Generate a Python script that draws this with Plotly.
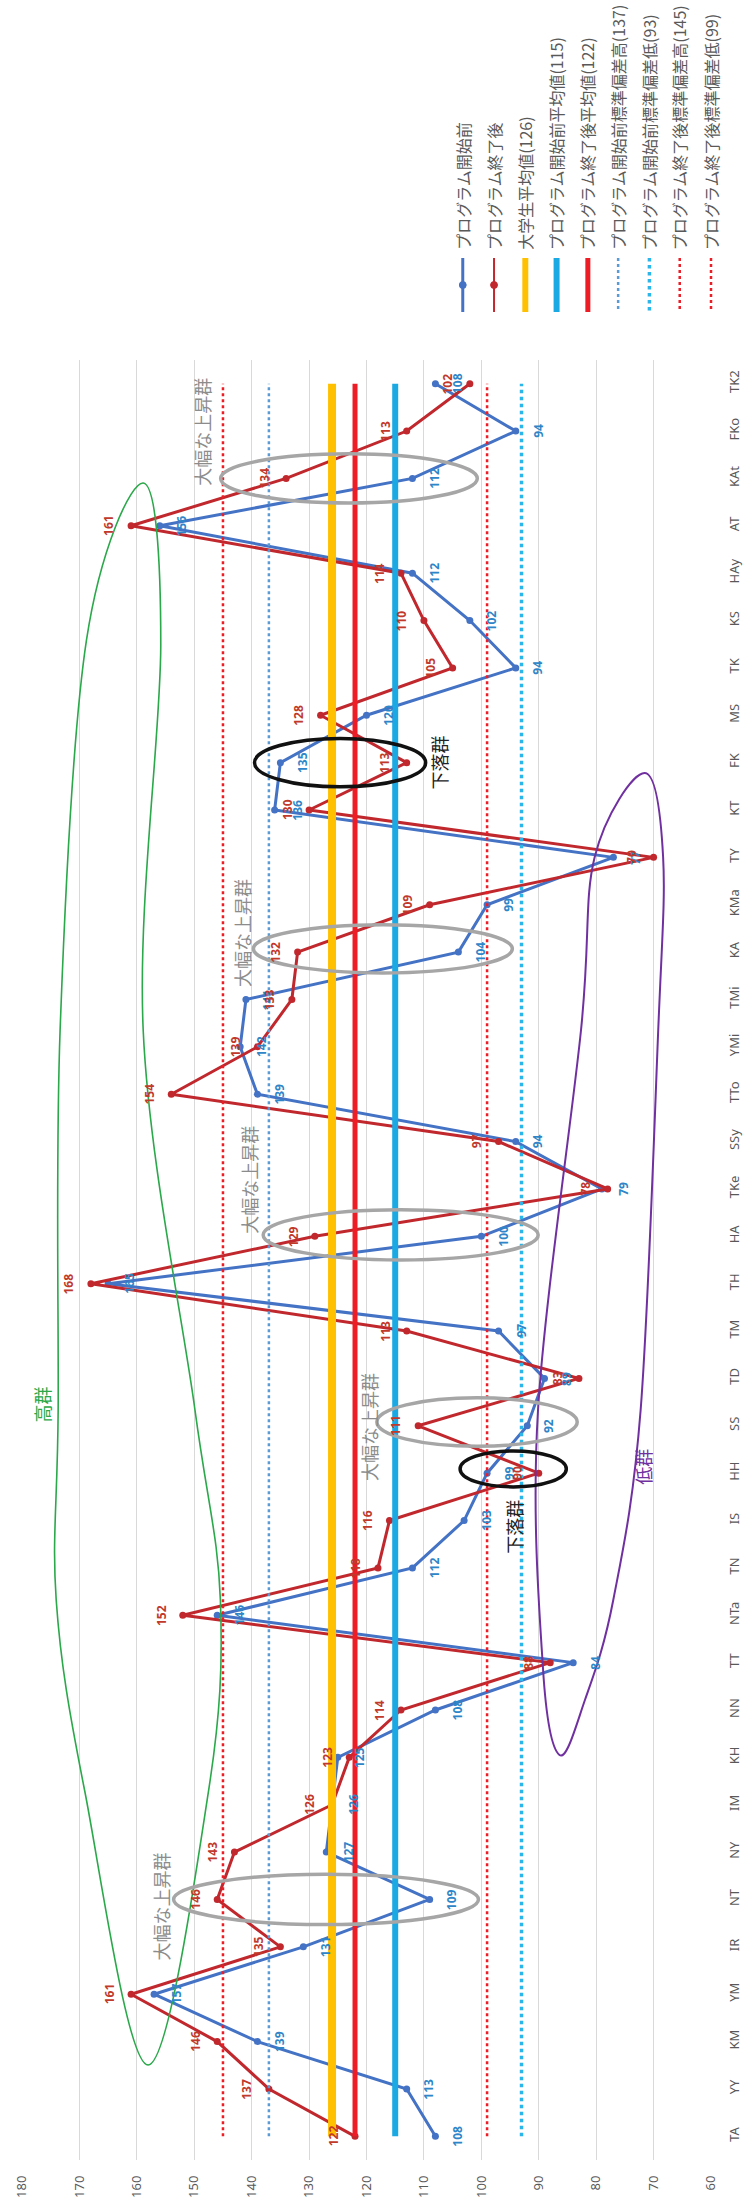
import plotly.graph_objects as go

# ---- data -------------------------------------------------------------
categories = ["TA", "YY", "KM", "YM", "IR", "NT", "NY", "IM", "KH", "NN",
              "TT", "NTa", "TN", "IS", "HH", "SS", "TD", "TM", "TH", "HA",
              "TKe", "SSy", "TTo", "YMi", "TMi", "KA", "KMa", "TY", "KT", "FK",
              "MS", "TK", "KS", "HAy", "AT", "KAt", "FKo", "TK2"]

pre_scores = [108, 113, 139, 157, 131, 109, 127, 126, 125, 108,
              84, 146, 112, 103, 99, 92, 89, 97, 165, 100,
              79, 94, 139, 142, 141, 104, 99, 77, 136, 135,
              120, 94, 102, 112, 156, 112, 94, 108]

post_scores = [122, 137, 146, 161, 135, 146, 143, 126, 123, 114,
               88, 152, 118, 116, 90, 111, 83, 113, 168, 129,
               78, 97, 154, 139, 133, 132, 109, 70, 130, 113,
               128, 105, 110, 114, 161, 134, 113, 102]

ref_names = ["大学生平均値(126)", "プログラム開始前平均値(115)", "プログラム終了後平均値(122)",
             "プログラム開始前標準偏差高(137)", "プログラム開始前標準偏差低(93)",
             "プログラム終了後標準偏差高(145)", "プログラム終了後標準偏差低(99)"]
ref_values = [126, 115, 122, 137, 93, 145, 99]
series_names = ["プログラム開始前", "プログラム終了後"]

value_ticks = list(range(60, 181, 10))

# ---- styling ----------------------------------------------------------
W, H = 755, 2212
PL, PR, PT, PB = 15, 720, 360, 2160          # plot area in pixels
BLUE, RED = "#4472C4", "#C0282D"
BLUE_TXT, RED_TXT = "#2E86C8", "#C0392B"
ref_styles = [("#FFC000", 8, "solid"), ("#1AA9E3", 6, "solid"), ("#EE1C25", 5, "solid"),
              ("#5B9BD5", 2.5, "dot"), ("#2BB5E8", 3.5, "dot"),
              ("#EE1C25", 2.5, "dot"), ("#EE1C25", 2.5, "dot")]
FONT = "Noto Sans, Noto Sans CJK JP, sans-serif"
JFONT = "Noto Sans CJK JP, sans-serif"

idx = list(range(len(categories)))
fig = go.Figure()

# data series
fig.add_trace(go.Scatter(x=pre_scores, y=idx, mode="lines+markers",
                         line=dict(color=BLUE, width=3),
                         marker=dict(color=BLUE, size=7), showlegend=False))
fig.add_trace(go.Scatter(x=post_scores, y=idx, mode="lines+markers",
                         line=dict(color=RED, width=3),
                         marker=dict(color=RED, size=7), showlegend=False))

# reference lines (mean / ±SD)
for val, (col, w, dash) in zip(ref_values, ref_styles):
    fig.add_trace(go.Scatter(x=[val, val], y=[idx[0], idx[-1]], mode="lines",
                             line=dict(color=col, width=w, dash=dash),
                             showlegend=False, hoverinfo="skip"))

annotations = []
# value labels
for i in idx:
    annotations.append(dict(x=pre_scores[i], y=i, text=str(pre_scores[i]),
                            xshift=22, showarrow=False, textangle=-90,
                            font=dict(family=FONT, size=12, color=BLUE_TXT, weight="bold")))
    annotations.append(dict(x=post_scores[i], y=i, text=str(post_scores[i]),
                            xshift=-22, showarrow=False, textangle=-90,
                            font=dict(family=FONT, size=12, color=RED_TXT, weight="bold")))


def to_val(px):
    return 180 - (px - PL) / ((PR - PL) / 120)


def to_cat(py):
    return 37.5 - (py - PT) / ((PB - PT) / 38)


def smooth_path(points):
    """Closed Catmull-Rom curve through (value, category) points as an SVG path."""
    n = len(points)
    d = "M {:.3f},{:.3f}".format(*points[0])
    for k in range(n):
        p0, p1 = points[k - 1], points[k]
        p2, p3 = points[(k + 1) % n], points[(k + 2) % n]
        c1 = (p1[0] + (p2[0] - p0[0]) / 6, p1[1] + (p2[1] - p0[1]) / 6)
        c2 = (p2[0] - (p3[0] - p1[0]) / 6, p2[1] - (p3[1] - p1[1]) / 6)
        d += " C {:.3f},{:.3f} {:.3f},{:.3f} {:.3f},{:.3f}".format(*c1, *c2, *p2)
    return d + " Z"


shapes = []
# high group outline
high_px = [(139, 483), (157, 645), (139, 1030), (192, 1410), (218, 1600), (206, 1790),
           (144, 2065), (79, 1790), (50, 1600), (52, 1410), (54, 1030), (81, 640)]
shapes.append(dict(type="path", xref="x", yref="y",
                   path=smooth_path([(to_val(a), to_cat(b)) for a, b in high_px]),
                   line=dict(color="#2AA84A", width=1.6)))
# low group outline
low_px = [(652, 773), (671, 857), (666, 1030), (648, 1410), (620, 1600), (591, 1700),
          (565, 1755), (548, 1667), (543, 1410), (587, 1030), (601, 857)]
shapes.append(dict(type="path", xref="x", yref="y",
                   path=smooth_path([(to_val(a), to_cat(b)) for a, b in low_px]),
                   line=dict(color="#7030A0", width=2)))

# rising groups (grey) and falling groups (black): (x0, x1, centre category, half-height)
rise_ellipses = [(153.6, 100.5, 5, 0.53), (118.2, 83.3, 15.08, 0.51), (138.0, 90.1, 19.03, 0.53),
                 (139.7, 94.6, 25.07, 0.51), (145.4, 100.7, 35.0, 0.52)]
fall_ellipses = [(103.7, 85.2, 14.09, 0.38), (139.5, 109.7, 29.0, 0.51)]
for x0, x1, c, h in rise_ellipses:
    shapes.append(dict(type="circle", xref="x", yref="y", x0=x0, x1=x1, y0=c - h, y1=c + h,
                       line=dict(color="#A6A6A6", width=3.5)))
for x0, x1, c, h in fall_ellipses:
    shapes.append(dict(type="circle", xref="x", yref="y", x0=x0, x1=x1, y0=c - h, y1=c + h,
                       line=dict(color="#111111", width=3.5)))

# group captions
captions = [("高群", 176.6, 15.44, "#2AA84A"), ("低群", 71.9, 14.13, "#7030A0"),
            ("大幅な上昇群", 155.7, 4.84, "#8C8C8C"), ("大幅な上昇群", 119.6, 14.97, "#8C8C8C"),
            ("大幅な上昇群", 140.5, 20.19, "#8C8C8C"), ("大幅な上昇群", 141.7, 25.4, "#8C8C8C"),
            ("大幅な上昇群", 148.7, 35.98, "#8C8C8C"),
            ("下落群", 94.2, 12.86, "#222222"), ("下落群", 107.3, 29.01, "#222222")]
for txt, x, y, col in captions:
    annotations.append(dict(x=x, y=y, text=txt, showarrow=False, textangle=-90,
                            font=dict(family=JFONT, size=18, color=col)))

# legend (drawn manually so it reads vertically)
def px_x(px):
    return (px - PL) / (PR - PL)


def px_y(py):
    return (PB - py) / (PB - PT)


legend_cols = [466, 498, 530, 562, 594, 625, 657, 688, 720]
legend_styles = [(BLUE, 3, "solid"), (RED, 2, "solid")] + ref_styles
legend_labels = series_names + ref_names
for k, (col_px, (col, w, dash), label) in enumerate(zip(legend_cols, legend_styles, legend_labels)):
    shapes.append(dict(type="line", xref="paper", yref="paper",
                       x0=px_x(col_px), x1=px_x(col_px), y0=px_y(258), y1=px_y(312),
                       line=dict(color=col, width=min(w, 6), dash=dash)))
    if k < 2:
        shapes.append(dict(type="circle", xref="paper", yref="paper",
                           x0=px_x(col_px - 3.5), x1=px_x(col_px + 3.5),
                           y0=px_y(288.5), y1=px_y(281.5),
                           fillcolor=col, line=dict(color=col, width=1)))
    annotations.append(dict(x=px_x(col_px), y=px_y(252), xref="paper", yref="paper",
                            text=label, showarrow=False, textangle=-90,
                            xanchor="center", yanchor="bottom",
                            font=dict(family=JFONT, size=16, color="#595959")))

fig.update_layout(
    width=W, height=H,
    margin=dict(l=PL, r=W - PR, t=PT, b=H - PB, pad=0),
    paper_bgcolor="white", plot_bgcolor="white",
    shapes=shapes, annotations=annotations,
    showlegend=False,
    xaxis=dict(range=[180, 60], tickvals=value_ticks, tickangle=-90,
               showgrid=True, gridcolor="#D9D9D9", gridwidth=1,
               zeroline=False, showline=False, ticks="",
               ticklabelstandoff=12,
               tickfont=dict(family=FONT, size=13, color="#595959")),
    yaxis=dict(range=[-0.5, 37.5], tickvals=idx, ticktext=categories,
               side="right", tickangle=-90, showgrid=False, zeroline=False,
               showline=False, ticks="", ticklabelstandoff=14,
               tickfont=dict(family=FONT, size=13, color="#595959")),
)

fig.write_html("out.html")
